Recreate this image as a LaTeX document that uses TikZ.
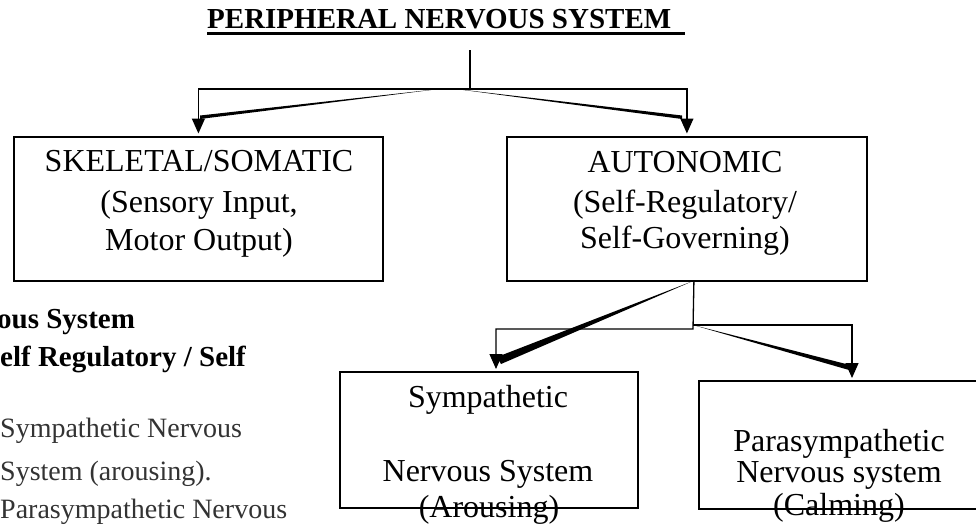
\documentclass[tikz,border=0pt]{standalone}
\usepackage{fontspec}
\setmainfont{Liberation Serif}
\usetikzlibrary{arrows.meta}
\begin{document}
\begin{tikzpicture}[x=1pt,y=-1pt,
  boxshape/.style={draw, line width=1.8pt, inner sep=0pt, anchor=north west},
  lbl/.style={inner sep=0pt, anchor=base, font=\fontsize{32}{38}\selectfont},
  side/.style={inner sep=0pt, anchor=base west, font=\fontsize{28}{34}\selectfont, text=black!80},
  sidebold/.style={inner sep=0pt, anchor=base west, font=\fontsize{29}{34}\selectfont\bfseries},
  conn/.style={line width=1.3pt},
  arr/.style={conn, -{Triangle[length=15pt,width=13pt]}},
  ghost/.style={fill=black}
]
\useasboundingbox (0,0) rectangle (976,525);
\clip (0,0) rectangle (976,525);

% title
\node[inner sep=0pt, anchor=base west, font=\fontsize{29}{34}\selectfont\bfseries] (title) at (207,28) {PERIPHERAL NERVOUS SYSTEM};
\draw[line width=2.2pt] ([yshift=-5.5pt]title.base west) -- ++(478,0);

% boxes
\node[boxshape, minimum width=369pt, minimum height=144pt] (skel) at (13,136) {};
\node[boxshape, minimum width=360pt, minimum height=144pt] (auto) at (506,136) {};
\node[boxshape, minimum width=298pt, minimum height=136pt] (symp) at (339,371) {};
\node[boxshape, minimum width=285pt, minimum height=128pt] (para) at (698,380) {};

% box texts
\node[lbl] (skel1) at (199,171) {SKELETAL/SOMATIC};
\node[lbl] (skel2) at (199,212) {(Sensory Input,};
\node[lbl] (skel3) at (199,250) {Motor Output)};
\node[lbl] (auto1) at (685,172) {AUTONOMIC};
\node[lbl] (auto2) at (685,212) {(Self-Regulatory/};
\node[lbl] (auto3) at (685,248) {Self-Governing)};
\node[lbl] (symp1) at (488,407) {Sympathetic};
\node[lbl] (symp2) at (488,481) {Nervous System};
\node[lbl] (symp3) at (489,517) {(Arousing)};
\node[lbl] (para1) at (839,451) {Parasympathetic};
\node[lbl] (para2) at (839,482) {Nervous system};
\node[lbl] (para3) at (839,515) {(Calming)};

% side text (cut off at left edge)
\node[sidebold] (ln1) at (-3,328) {ous System};
\node[sidebold] (ln2) at (0,366) {elf Regulatory / Self};
\node[side] (ln3) at (0,437) {Sympathetic Nervous};
\node[side] (ln4) at (0,480) {System (arousing).};
\node[side] (ln5) at (0,518) {Parasympathetic Nervous};

% upper connectors
\coordinate (pnsfoot) at (470,50);
\coordinate (pnsjoin) at (470,89);
\draw[conn] (pnsfoot) -- (pnsjoin);
\draw[arr] (pnsjoin) -| ([yshift=2.5pt]skel.north);
\draw[arr] (pnsjoin) -| ([yshift=2.5pt]auto.north);
\draw[line width=2.5pt] (417,89) -- (452,89);
\fill[ghost] (443,88.5) -- (200,115.5) -- (200,119) -- cycle;
\fill[ghost] (452,88.5) -- (682,115.5) -- (682,119) -- cycle;

% lower connectors
\coordinate (autofoot) at ([xshift=7pt]auto.south);
\coordinate (autoknee) at (693,329);
\coordinate (autoknee2) at (693,325);
\coordinate (symptop) at (496,369);
\coordinate (paratop) at (852,378);
\draw[arr] (autofoot) -- (autoknee) -| (symptop);
\draw[arr] (autoknee2) -| (paratop);
\fill[ghost] (693,281) -- (497,357) -- (501,364) -- cycle;
\fill[ghost] (693,325) -- (850,365) -- (849,370) -- cycle;
\end{tikzpicture}
\end{document}
